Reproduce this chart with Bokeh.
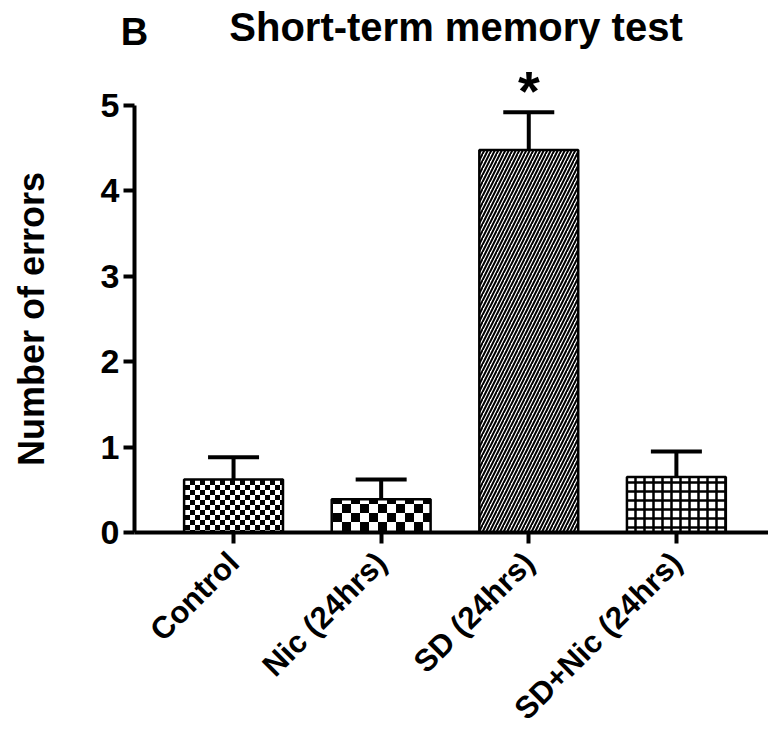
import math, zlib, struct, base64
from bokeh.plotting import figure
from bokeh.models import (Range1d, FixedTicker, Whisker, TeeHead, ColumnDataSource,
                          Label, ImageURLTexture)
from bokeh.embed import file_html
from bokeh.resources import INLINE
from bokeh.core.properties import value

# ---- data ----
groups = ["Control", "Nic (24hrs)", "SD (24hrs)", "SD+Nic (24hrs)"]
means = [0.62, 0.39, 4.48, 0.65]
sems = [0.26, 0.23, 0.44, 0.30]
significant = [False, False, True, False]
y_ticks = [0, 1, 2, 3, 4, 5]
title_text = "Short-term memory test"
panel_letter = "B"
y_label = "Number of errors"

# ---- styles ----
FONT = "Liberation Sans"
patterns = ["fine_checker", "coarse_checker", "right_diagonal_line", "cross"]
pattern_scales = [10, 18, 7, 9]
pattern_weights = [1, 1, 2, 2.5]


def checker_png(cell):
    n = cell * 2
    raw = b""
    for yy in range(n):
        row = bytearray([0])
        for xx in range(n):
            black = ((xx // cell) + (yy // cell)) % 2 == 0
            row += bytes([0, 0, 0, 255]) if black else bytes([255, 255, 255, 255])
        raw += bytes(row)

    def chunk(tag, data):
        return (struct.pack(">I", len(data)) + tag + data +
                struct.pack(">I", zlib.crc32(tag + data) & 0xffffffff))

    png = (b"\x89PNG\r\n\x1a\n" +
           chunk(b"IHDR", struct.pack(">IIBBBBB", n, n, 8, 6, 0, 0, 0)) +
           chunk(b"IDAT", zlib.compress(raw)) + chunk(b"IEND", b""))
    return "data:image/png;base64," + base64.b64encode(png).decode()


hatch_extra = {
    "fine_checker": ImageURLTexture(url=checker_png(5)),
    "coarse_checker": ImageURLTexture(url=checker_png(9)),
}

xs = list(range(len(groups)))
upper = [m + s for m, s in zip(means, sems)]

p = figure(frame_width=634, frame_height=532,
           x_range=Range1d(-0.671, 3.624), y_range=Range1d(0, 6.23),
           output_backend="svg", toolbar_location=None,
           min_border_left=134, min_border_right=0, min_border_top=0, min_border_bottom=0)

src = ColumnDataSource(dict(x=xs, mean=means, upper=upper, pat=patterns,
                            hs=pattern_scales, hw=pattern_weights))

p.vbar(x="x", top="mean", bottom=0, width=0.67, source=src,
       fill_color="white", line_color="black", line_width=2.5,
       hatch_pattern="pat", hatch_scale="hs", hatch_weight="hw",
       hatch_color="black", hatch_extra=hatch_extra)

w = Whisker(source=src, base="x", lower="mean", upper="upper", dimension="height",
            line_width=4, line_color="black",
            upper_head=TeeHead(size=51, line_width=4, line_color="black"),
            lower_head=None)
p.add_layout(w)

sig_x = [x for x, s in zip(xs, significant) if s]
sig_y = [u + 0.26 for u, s in zip(upper, significant) if s]
p.text(x=sig_x, y=sig_y, text=["*"] * len(sig_x), text_font=value(FONT),
       text_font_style="bold", text_font_size="56px", text_align="center",
       text_baseline="alphabetic", text_color="black")

# titles
p.add_layout(Label(x=1.507, y=5.916, text=title_text, text_align="center",
                   text_baseline="alphabetic", text_font=FONT, text_font_style="bold",
                   text_font_size="40px", text_color="black"))
p.add_layout(Label(x=-0.671, y=5.856, text=panel_letter, text_align="center",
                   text_baseline="alphabetic", text_font=FONT, text_font_style="bold",
                   text_font_size="38px", text_color="black"), "left")
p.add_layout(Label(x=-1.369, y=2.5, text=y_label, text_align="center",
                   text_baseline="middle", angle=math.pi / 2, text_font=FONT,
                   text_font_style="bold", text_font_size="36px", text_color="black"), "left")

# axes
p.xaxis.ticker = FixedTicker(ticks=xs)
p.xaxis.major_label_overrides = {i: g for i, g in enumerate(groups)}
p.xaxis.major_label_orientation = math.pi / 4
p.yaxis.ticker = FixedTicker(ticks=y_ticks)
p.yaxis.bounds = (0, 5)
for ax in (p.xaxis[0], p.yaxis[0]):
    ax.axis_line_width = 4
    ax.axis_line_color = "black"
    ax.major_tick_line_width = 4
    ax.major_tick_line_color = "black"
    ax.major_tick_out = 11
    ax.major_tick_in = 0
    ax.minor_tick_line_color = None
    ax.major_label_text_font = FONT
    ax.major_label_text_font_style = "bold"
    ax.major_label_text_color = "black"
p.xaxis.major_label_text_font_size = "31px"
p.yaxis.major_label_text_font_size = "34px"
p.xaxis.major_label_standoff = 14
p.yaxis.major_label_standoff = 4

p.xgrid.grid_line_color = None
p.ygrid.grid_line_color = None
p.outline_line_color = None
p.background_fill_color = "white"
p.border_fill_color = "white"

open("out.html", "w").write(file_html(p, INLINE))
